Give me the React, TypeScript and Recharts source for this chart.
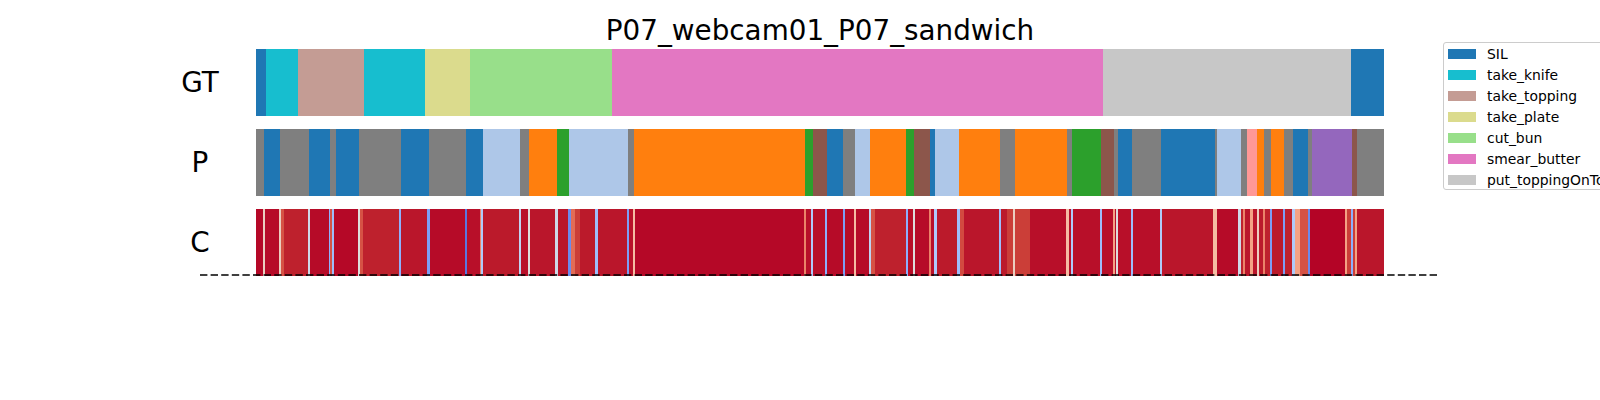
import React from 'react';
import { BarChart, Bar, XAxis, YAxis, Cell } from 'recharts';

const TITLE = 'P07_webcam01_P07_sandwich';
const FRAME_TOTAL = 1128;
const rowNames = ['GT', 'P', 'C'];

const legendClasses = ['SIL', 'take_knife', 'take_topping', 'take_plate', 'cut_bun', 'smear_butter', 'put_toppingOnTop'];

const classColors: Record<string, string> = {
  SIL: '#1f77b4',
  take_knife: '#17becf',
  take_topping: '#c49c94',
  take_plate: '#dbdb8d',
  cut_bun: '#98df8a',
  smear_butter: '#e377c2',
  put_toppingOnTop: '#c7c7c7',
  unk_gray: '#7f7f7f',
  unk_orange: '#ff7f0e',
  unk_green: '#2ca02c',
  unk_brown: '#8c564b',
  unk_lightblue: '#aec7e8',
  unk_salmon: '#ff9896',
  unk_purple: '#9467bd',
};

// Ground truth segments (label, end frame)
const gtLabels = ['SIL', 'take_knife', 'take_topping', 'take_knife', 'take_plate', 'cut_bun', 'smear_butter', 'put_toppingOnTop', 'SIL'];
const gtEnds = [10, 42, 108, 169, 214, 356, 847, 1095, 1128];

// Prediction segments
const G = 'unk_gray', B = 'SIL', L = 'unk_lightblue', O = 'unk_orange', N = 'unk_green', R = 'unk_brown', S = 'unk_salmon', U = 'unk_purple';
const pLabels = [G, B, G, B, G, B, G, B, G, B, L, G, O, N, L, G, O, N, R, B, G, L, O, N, R, B, L, O, G, O, G, N, R, G, B, G, B, G, L, G, S, O, G, O, G, B, G, U, R, G];
const pEnds = [8, 24, 53, 74, 80, 103, 145, 173, 210, 227, 264, 273, 301, 313, 372, 378, 549, 557, 571, 587, 599, 614, 650, 658, 674, 679, 703, 744, 759, 811, 816, 845, 858, 862, 876, 905, 959, 961, 985, 991, 1001, 1008, 1015, 1028, 1037, 1052, 1056, 1096, 1101, 1128];

// Confidence segments (end frame, confidence)
const confSegments: [number, number][] = [
  [7, 0.97], [9, 0.55], [23, 0.96], [25, 0.55], [28, 0.8], [52, 0.9], [54, 0.45], [73, 0.96], [74, 0.25], [76, 0.8],
  [78, 0.3], [102, 0.97], [104, 0.5], [107, 0.8], [143, 0.9], [145, 0.25], [171, 0.93], [174, 0.2], [209, 0.96], [211, 0.1],
  [224, 0.95], [225, 0.7], [227, 0.35], [263, 0.92], [265, 0.4], [272, 0.95], [274, 0.5], [299, 0.93], [302, 0.45], [312, 0.93],
  [315, 0.15], [319, 0.75], [324, 0.85], [339, 0.92], [342, 0.3], [371, 0.93], [373, 0.2], [377, 0.94], [379, 0.6], [548, 0.97],
  [550, 0.7], [555, 0.95], [557, 0.35], [569, 0.95], [571, 0.25], [587, 0.96], [589, 0.2], [598, 0.96], [600, 0.6], [613, 0.96],
  [615, 0.4], [619, 0.8], [650, 0.9], [652, 0.25], [657, 0.95], [659, 0.5], [673, 0.96], [675, 0.7], [678, 0.95], [681, 0.35],
  [701, 0.92], [704, 0.3], [708, 0.82], [743, 0.93], [745, 0.3], [751, 0.92], [757, 0.85], [759, 0.55], [774, 0.85], [810, 0.95],
  [813, 0.6], [815, 0.95], [817, 0.35], [844, 0.95], [846, 0.3], [857, 0.95], [859, 0.65], [860, 0.95], [862, 0.5], [875, 0.95],
  [877, 0.3], [904, 0.95], [906, 0.35], [957, 0.93], [961, 0.6], [982, 0.96], [985, 0.45], [987, 0.9], [989, 0.7], [994, 0.93],
  [997, 0.65], [1001, 0.93], [1003, 0.55], [1007, 0.92], [1009, 0.7], [1014, 0.9], [1016, 0.2], [1027, 0.92], [1029, 0.2], [1036, 0.9],
  [1039, 0.35], [1044, 0.65], [1052, 0.8], [1054, 0.15], [1089, 0.98], [1091, 0.65], [1095, 0.85], [1097, 0.25], [1099, 0.85], [1101, 0.65],
  [1128, 0.93],
];

// coolwarm colour scale
const cwStops: [number, number[]][] = [
  [0, [59, 76, 192]], [0.125, [98, 130, 234]], [0.25, [141, 176, 254]], [0.375, [184, 208, 249]],
  [0.5, [221, 221, 221]], [0.625, [245, 196, 173]], [0.75, [244, 154, 123]], [0.875, [222, 96, 77]],
  [0.9375, [203, 62, 56]], [0.96875, [192, 40, 47]], [1, [180, 4, 38]],
];
const normStops: [number, number][] = [[0, 0], [0.5, 0.5], [0.7, 0.8], [0.8, 0.9], [0.9, 0.975], [0.98, 1], [1, 1]];

function interp1(stops: [number, number][], v: number) {
  for (let i = 1; i < stops.length; i++) {
    if (v <= stops[i][0]) {
      const [a, fa] = stops[i - 1];
      const [b, fb] = stops[i];
      return fa + ((v - a) / (b - a)) * (fb - fa);
    }
  }
  return stops[stops.length - 1][1];
}
function coolwarm(v: number) {
  const t = Math.max(0, Math.min(1, interp1(normStops, v)));
  for (let i = 1; i < cwStops.length; i++) {
    if (t <= cwStops[i][0]) {
      const [a, ca] = cwStops[i - 1];
      const [b, cb] = cwStops[i];
      const f = (t - a) / (b - a);
      const c = ca.map((x, j) => Math.round(x + f * (cb[j] - x)));
      return `rgb(${c[0]},${c[1]},${c[2]})`;
    }
  }
  return 'rgb(180,4,38)';
}

function lengths(ends: number[]) {
  return ends.map((e, i) => e - (i === 0 ? 0 : ends[i - 1]));
}

const gtLens = lengths(gtEnds);
const pLens = lengths(pEnds);
const cLens = lengths(confSegments.map((s) => s[0]));

const rowLens = [gtLens, pLens, cLens];
const rowColors = [
  gtLabels.map((l) => classColors[l]),
  pLabels.map((l) => classColors[l]),
  confSegments.map((s) => coolwarm(s[1])),
];
const maxSeg = Math.max(...rowLens.map((r) => r.length));

const data = rowNames.map((name, i) => {
  const o: Record<string, any> = { row: name };
  for (let k = 0; k < maxSeg; k++) o[`s${k}`] = rowLens[i][k] ?? 0;
  return o;
});

const FONT = '"DejaVu Sans", sans-serif';

const RowTick = (props: any) => {
  const { x, y, payload } = props;
  return (
    <text x={x - 56} y={y} dy={10} textAnchor="middle" fontFamily={FONT} fontSize={27.8} fill="#000">
      {payload.value}
    </text>
  );
};

export default function App() {
  const segKeys = Array.from({ length: maxSeg }, (_, k) => k);
  return (
    <div style={{ position: 'fixed', left: 0, top: 0, width: 1600, height: 400, overflow: 'hidden', background: '#fff', shapeRendering: 'crispEdges' as any }}>
      <BarChart
        width={1600}
        height={400}
        data={data}
        layout="vertical"
        margin={{ top: 41.5, right: 216, bottom: 118, left: 0 }}
        barSize={67}
      >
        <XAxis type="number" domain={[0, FRAME_TOTAL]} hide allowDataOverflow />
        <YAxis
          type="category"
          dataKey="row"
          width={256}
          axisLine={false}
          tickLine={false}
          tickSize={0}
          tickMargin={0}
          interval={0}
          tick={<RowTick />}
        />
        {segKeys.map((k) => (
          <Bar key={k} dataKey={`s${k}`} stackId="t" barSize={67} isAnimationActive={false}>
            {data.map((_, i) => (
              <Cell key={i} fill={rowColors[i][k] ?? 'none'} />
            ))}
          </Bar>
        ))}
      </BarChart>
      <svg width={1600} height={400} style={{ position: 'absolute', left: 0, top: 0, pointerEvents: 'none', shapeRendering: 'auto' }}>
        <text x={820} y={39.5} textAnchor="middle" fontFamily={FONT} fontSize={27.8} fill="#000">
          {TITLE}
        </text>
        <line x1={200} x2={1440} y1={275} y2={275} stroke="#000" strokeWidth={1.5} strokeDasharray="7.4 3.2" />
      </svg>
      <div
        style={{
          position: 'absolute',
          left: 1443,
          top: 42,
          width: 220,
          height: 148,
          border: '1px solid #cccccc',
          borderRadius: 3,
          background: 'rgba(255,255,255,0.8)',
          boxSizing: 'border-box',
          fontFamily: FONT,
          fontSize: 13.9,
          color: '#000',
        }}
      >
        {legendClasses.map((c, i) => (
          <div key={c} style={{ position: 'absolute', left: 4, top: 6 + i * 21, height: 10, display: 'flex', alignItems: 'center', whiteSpace: 'nowrap' }}>
            <div style={{ width: 28, height: 10, background: classColors[c] }} />
            <span style={{ marginLeft: 11, lineHeight: '10px' }}>{c}</span>
          </div>
        ))}
      </div>
    </div>
  );
}
